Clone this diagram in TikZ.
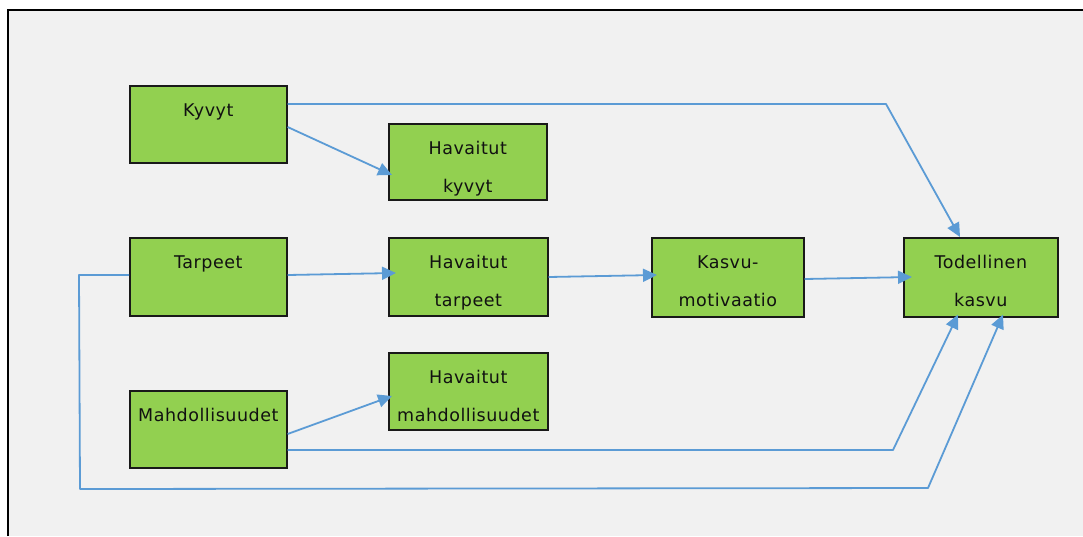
\documentclass[tikz,border=0pt]{standalone}
\usepackage{fontspec}
\setmainfont{DejaVu Sans}[LetterSpace=3]
\usetikzlibrary{arrows.meta,calc}
\definecolor{bg}{HTML}{F1F1F1}
\definecolor{boxgreen}{HTML}{92D050}
\definecolor{conn}{HTML}{5B9BD5}
\definecolor{txt}{HTML}{111111}
\newcommand\boxlines[2]{\parbox[c][#1][t]{150pt}{\centering\fontsize{17.5}{38}\selectfont\rule{0pt}{31pt}#2\par\vfill}}
\tikzset{
  gbox/.style={draw=black!90, line width=1.6pt, fill=boxgreen, inner sep=0pt, anchor=north west, text=txt},
  conline/.style={draw=conn, line width=1.8pt, line join=round},
  conarrow/.style={conline, -{Triangle[length=14pt,width=13pt]}},
}
\begin{document}
\begin{tikzpicture}[x=1pt,y=-1pt]
\useasboundingbox (0,0) rectangle (1083,536);
\fill[white] (0,0) rectangle (1083,536);
\fill[bg] (8,10) rectangle (1083,536);
\draw[line width=2pt] (8,536) -- (8,10) -- (1083,10);

\node[gbox, minimum width=157pt, minimum height=77pt] (kyvyt) at (129,85) {\boxlines{77pt}{Kyvyt}};
\node[gbox, minimum width=158pt, minimum height=76pt] (hk) at (388,123) {\boxlines{76pt}{Havaitut\\kyvyt}};
\node[gbox, minimum width=157pt, minimum height=78pt] (tarpeet) at (129,237) {\boxlines{78pt}{Tarpeet}};
\node[gbox, minimum width=159pt, minimum height=78pt] (ht) at (388,237) {\boxlines{78pt}{Havaitut\\tarpeet}};
\node[gbox, minimum width=152pt, minimum height=79pt] (km) at (651,237) {\boxlines{79pt}{Kasvu-\\motivaatio}};
\node[gbox, minimum width=154pt, minimum height=79pt] (tod) at (903,237) {\boxlines{79pt}{Todellinen\\kasvu}};
\node[gbox, minimum width=159pt, minimum height=77pt] (hm) at (388,352) {\boxlines{77pt}{Havaitut\\mahdollisuudet}};
\node[gbox, minimum width=157pt, minimum height=77pt] (mahd) at (129,390) {\boxlines{77pt}{Mahdollisuudet}};

\coordinate (k1) at (886,104);
\coordinate (m1) at (893,450);
\coordinate (t1) at (79,275);
\coordinate (t2) at (80,489);
\coordinate (t3) at (928,488);

\draw[conarrow] ($(kyvyt.north east)+(0,19)$) -- (k1) -- ($(tod.north west)+(57,0)$);
\draw[conarrow] ($(kyvyt.north east)+(0,42)$) -- ($(hk.north west)+(4,52)$);
\draw[conarrow] ($(tarpeet.north east)+(0,38)$) -- ($(ht.north west)+(8,36)$);
\draw[conarrow] ($(ht.north east)+(0,40)$) -- ($(km.north west)+(6,38)$);
\draw[conarrow] ($(km.north east)+(0,42)$) -- ($(tod.north west)+(9,40)$);
\draw[conarrow] ($(mahd.north east)+(0,44)$) -- ($(hm.north west)+(4,44)$);
\draw[conarrow] ($(mahd.north east)+(0,60)$) -- (m1) -- ($(tod.south west)+(55,-3)$);
\draw[conarrow] ($(tarpeet.north west)+(0,38)$) -- (t1) -- (t2) -- (t3) -- ($(tod.south west)+(100,-3)$);
\end{tikzpicture}
\end{document}
